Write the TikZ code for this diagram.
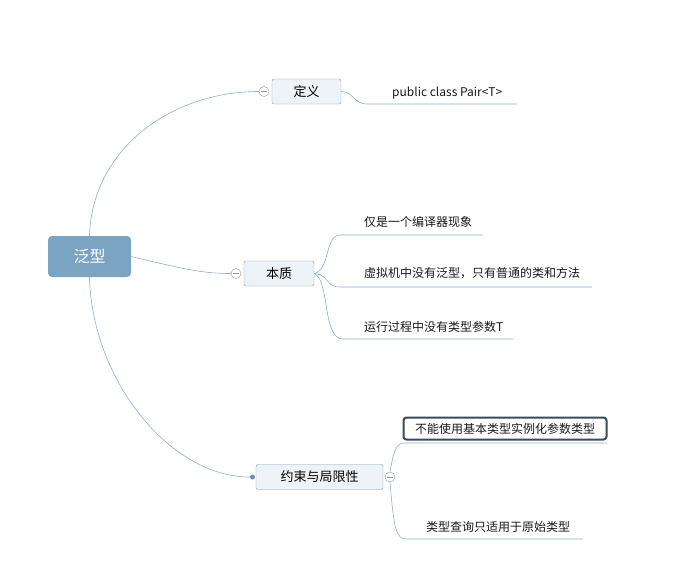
\documentclass[tikz,border=0pt]{standalone}
\usepackage{fontspec}
\usepackage{xcolor}
\newfontfamily\cjk{Noto Sans CJK SC}
\definecolor{rootblue}{HTML}{7BA3C2}
\definecolor{boxfill}{HTML}{EEF3F8}
\definecolor{boxline}{HTML}{7F9BB5}
\definecolor{linec}{HTML}{8DAECB}
\definecolor{darkline}{HTML}{3B4A56}

\begin{document}
\begin{tikzpicture}[
    x=1pt, y=-1pt,
    % estilos de los nodos
    root/.style={rounded corners=4pt, fill=rootblue, text=white, minimum width=83pt,
      minimum height=41pt, font=\cjk\fontsize{16}{18}\selectfont},
    topic/.style={rounded corners=2pt, draw=boxline, fill=boxfill, minimum height=25pt,
      text=black, font=\cjk\fontsize{13}{15}\selectfont},
    leaf/.style={inner sep=0pt, anchor=west, text=black!90, font=\cjk\fontsize{12}{14}\selectfont},
    branch/.style={draw=linec, line width=0.6pt},
    fold/.style={circle, draw=gray!80, fill=white, minimum size=10pt, inner sep=0pt,
      path picture={\draw[gray!80] ([xshift=-3pt]path picture bounding box.center)
        -- ([xshift=3pt]path picture bounding box.center);}}
  ]
  \useasboundingbox (0,0) rectangle (675,576);

  % 1. Nodo central
  \node[root] (fx) at (89.5,256.5) {泛型};

  % 2. Temas principales
  \node[topic, minimum width=69pt] (dy) at (306.5,91.5) {定义};
  \node[topic, minimum width=70pt] (bz) at (279,273.5) {本质};
  \node[topic, minimum width=127pt] (ys) at (319.5,477) {约束与局限性};

  \node[fold] (fdy) at (264,91.5) {};
  \node[fold] (fbz) at (236,273.5) {};
  \node[fold] (fys) at (390,477) {};
  \node[circle, fill=linec!80!black, minimum size=5pt, inner sep=0pt] (dot) at (252.5,477) {};

  % 3. Hojas (texto y subrayado)
  \node[leaf] (l1) at (392,93) {public class Pair<T>};
  \coordinate (l1a) at (368,104); \coordinate (l1b) at (517,104);

  \node[leaf] (l2) at (364,222) {仅是一个编译器现象};
  \coordinate (l2a) at (340,235); \coordinate (l2b) at (483,235);
  \node[leaf] (l3) at (364,273) {虚拟机中没有泛型，只有普通的类和方法};
  \coordinate (l3a) at (340,287); \coordinate (l3b) at (592,287);
  \node[leaf] (l4) at (364,327) {运行过程中没有类型参数T};
  \coordinate (l4a) at (343,339); \coordinate (l4b) at (513,339);

  \node[leaf, anchor=center, draw=darkline, line width=2pt, rounded corners=3pt,
    minimum width=203pt, minimum height=22pt] (l5) at (505,428.5) {不能使用基本类型实例化参数类型};
  \coordinate (l5a) at (405,443); \coordinate (l5b) at (607,443);
  \node[leaf] (l6) at (426,527) {类型查询只适用于原始类型};
  \coordinate (l6a) at (407,539); \coordinate (l6b) at (583,539);

  % 4. Conexiones
  \draw[branch] (fx.north) .. controls (92,150) and (170,91.5) .. (fdy.west);
  \draw[branch] (fx.east) .. controls (180,268) and (200,273.5) .. (fbz.west);
  \draw[branch] (fx.south) .. controls (92,380) and (170,477) .. (dot.west);

  \draw[branch] (dy.east) .. controls (355,92) and (352,104) .. (l1a) -- (l1b);

  \draw[branch] (bz.east) .. controls (330,270) and (325,235) .. (l2a) -- (l2b);
  \draw[branch] (bz.east) .. controls (330,275) and (325,287) .. (l3a) -- (l3b);
  \draw[branch] (bz.east) .. controls (330,280) and (322,339) .. (l4a) -- (l4b);

  \draw[branch] (fys.north) .. controls (394,450) and (396,443) .. (l5a) -- (l5b);
  \draw[branch] (fys.south) .. controls (394,530) and (396,539) .. (l6a) -- (l6b);
\end{tikzpicture}
\end{document}
